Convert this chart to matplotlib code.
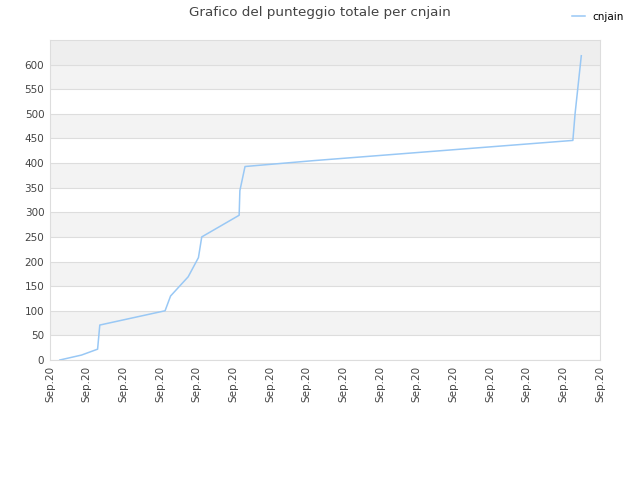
import numpy as np
import matplotlib.pyplot as plt

# data (x in tick units, 0..15)
xPos = [0.27, 0.86, 1.30, 1.36, 3.14, 3.29, 3.77, 4.05, 4.14,
        5.16, 5.18, 5.32, 7.2, 14.26, 14.32, 14.49]
scores = [0, 10, 22, 71, 100, 130, 169, 208, 250,
          294, 344, 393, 405, 446, 500, 618]
tickLabels = ['Sep.20'] * 16
playerName = 'cnjain'

fig = plt.figure(figsize=(6.4, 4.8), dpi=100)
ax = fig.add_axes([0.078, 0.25, 0.8595, 0.6667])

# alternating bands
for i, lo in enumerate(range(0, 650, 50)):
    if lo == 600:
        ax.axhspan(lo, lo + 50, color='#eeeeee', zorder=0, lw=0)
    elif i % 2 == 1:
        ax.axhspan(lo, lo + 50, color='#f3f3f3', zorder=0, lw=0)

ax.plot(xPos, scores, color='#99c8f5', lw=1.1, label=playerName, zorder=3)

ax.set_xlim(0, 15)
ax.set_ylim(0, 650)
ax.set_yticks(range(0, 601, 50))
ax.set_xticks(range(16))
ax.set_xticklabels(tickLabels, rotation=90)
ax.tick_params(labelsize=7.5, colors='#444444', length=0, pad=4)
ax.grid(axis='y', color='#dddddd', lw=0.8, zorder=1)
ax.set_axisbelow(True)
for s in ax.spines.values():
    s.set_color('#dddddd')

fig.suptitle('Grafico del punteggio totale per cnjain', fontsize=9.7,
             color='#444444', y=0.988)
fig.legend(loc='upper right', bbox_to_anchor=(0.99, 0.995), frameon=False,
           fontsize=7.5, handlelength=1.2)

plt.savefig('out.png')
